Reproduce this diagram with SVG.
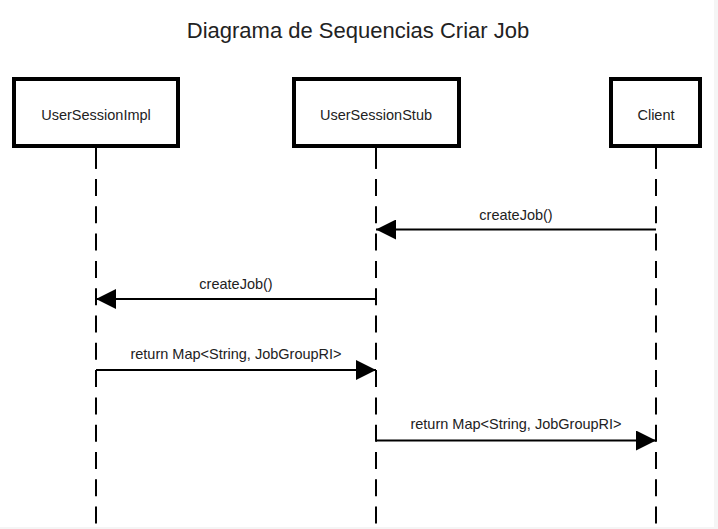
<svg xmlns="http://www.w3.org/2000/svg" width="718" height="529" viewBox="0 0 718 529">
<style>
text{font-family:"Liberation Sans",Arial,Helvetica,sans-serif;fill:#222}
.title{font-size:22px}
.lbl{font-size:14.5px}
.box{fill:#fff;stroke:#000;stroke-width:4}
.life{stroke:#000;stroke-width:2;fill:none}
.dash{stroke-dasharray:17 10.3}
.msg{stroke:#000;stroke-width:2;fill:none}
</style>
<defs>
<marker id="ah" markerUnits="userSpaceOnUse" markerWidth="20" markerHeight="20" refX="20" refY="10" orient="auto">
<path d="M0,0 L20,10 L0,20 Z" fill="#000"/>
</marker>
</defs>
<rect x="0" y="0" width="718" height="529" fill="#f5f5f5"/>
<rect x="0" y="0" width="714" height="527" fill="#fff"/>
<text class="title" x="358" y="38" text-anchor="middle">Diagrama de Sequencias Criar Job</text>
<g id="lifelines">
<path class="life" d="M96 146 V168.7 M376 146 V168.7 M656 146 V168.7"/>
<path class="life dash" d="M96 151.7 V527"/>
<path class="life dash" d="M376 151.7 V527"/>
<path class="life dash" d="M656 151.7 V527"/>
</g>
<g id="node-impl">
<rect class="box" x="14" y="79" width="164" height="67"/>
<text class="lbl" x="96" y="120" text-anchor="middle">UserSessionImpl</text>
</g>
<g id="node-stub">
<rect class="box" x="294" y="79" width="165" height="67"/>
<text class="lbl" x="376" y="120" text-anchor="middle">UserSessionStub</text>
</g>
<g id="node-client">
<rect class="box" x="611" y="79" width="89" height="67"/>
<text class="lbl" x="656" y="120" text-anchor="middle">Client</text>
</g>
<g id="connectors">
<line class="msg" x1="656" y1="229.5" x2="376" y2="229.5" marker-end="url(#ah)"/>
<text class="lbl" x="516" y="220" text-anchor="middle">createJob()</text>
<line class="msg" x1="376" y1="299" x2="96" y2="299" marker-end="url(#ah)"/>
<text class="lbl" x="236" y="289" text-anchor="middle">createJob()</text>
<line class="msg" x1="96" y1="370" x2="376" y2="370" marker-end="url(#ah)"/>
<text class="lbl" x="236" y="358.5" text-anchor="middle">return Map&lt;String, JobGroupRI&gt;</text>
<line class="msg" x1="376" y1="440.5" x2="656" y2="440.5" marker-end="url(#ah)"/>
<text class="lbl" x="516" y="429" text-anchor="middle">return Map&lt;String, JobGroupRI&gt;</text>
</g>
</svg>
